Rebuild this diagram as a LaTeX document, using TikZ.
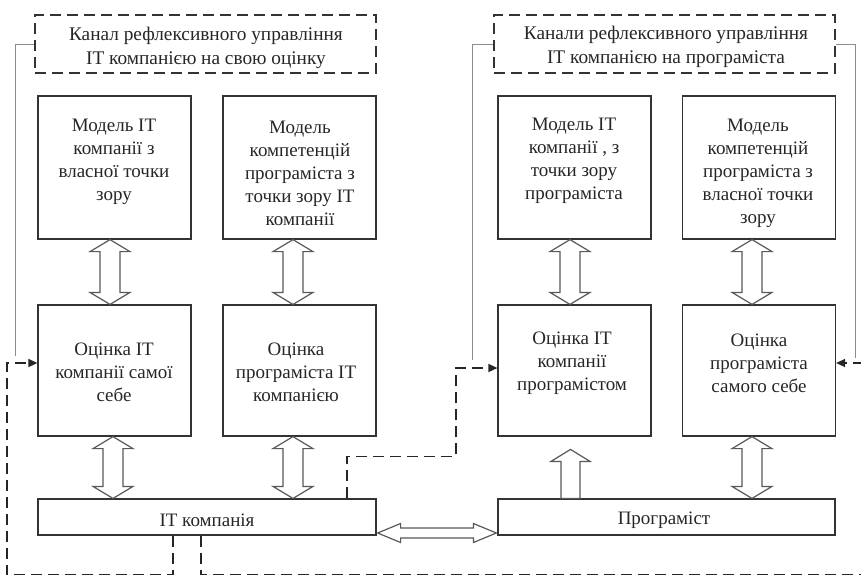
\documentclass[tikz,border=0pt]{standalone}
\usepackage{fontspec}
\setmainfont{Liberation Serif}
\usetikzlibrary{arrows.meta,calc}
\newcommand\vdarrow[3]{% #1 upper anchor, #2 lower anchor, #3 x (px)
  \draw[harrow] let \p1=(#1), \p2=(#2) in
    (#3pt,\y1) -- (#3pt+20pt,\y1-12pt) -- (#3pt+10pt,\y1-12pt) -- (#3pt+10pt,\y2+12pt)
    -- (#3pt+20pt,\y2+12pt) -- (#3pt,\y2) -- (#3pt-20pt,\y2+12pt) -- (#3pt-10pt,\y2+12pt)
    -- (#3pt-10pt,\y1-12pt) -- (#3pt-20pt,\y1-12pt) -- cycle;}
\begin{document}
\begin{tikzpicture}[x=1pt,y=-1pt,
  box/.style={draw=black!80,line width=1.2pt,minimum width=153pt,minimum height=143pt,inner sep=0pt},
  lowbox/.style={box,minimum height=131pt},
  wide/.style={draw=black!80,line width=1.2pt,minimum width=338pt,minimum height=36pt,inner sep=0pt},
  chan/.style={draw=black!80,line width=1.4pt,dash pattern=on 11pt off 6pt,minimum width=341pt,minimum height=58pt,inner sep=0pt},
  txt/.style={align=center,inner sep=0pt,text=black!85,font=\fontsize{19}{23}\selectfont},
  ctxt/.style={txt,font=\fontsize{19.3}{24}\selectfont},
  harrow/.style={draw=black!65,line width=1.2pt,fill=white,line join=miter},
  thin/.style={draw=black!45,line width=0.8pt},
  dline/.style={draw=black!85,line width=1.4pt,dash pattern=on 11pt off 6pt},
  tip/.style={-{Triangle[length=9pt,width=8pt]}}
]
\useasboundingbox (0,0) rectangle (861,576);

% channel boxes
\node[chan] (c1) at (205.5,44) {};
\node[chan] (c2) at (664.5,44) {};
\node[ctxt] (c1t) at (206,47.5) {Канал рефлексивного управління\\IT компанією на свою оцінку};
\node[ctxt] (c2t) at (666,47) {Канали рефлексивного управління\\IT компанією на програміста};

% model boxes
\node[box] (b1) at (114.5,167.5) {};
\node[box] (b2) at (299.5,167.5) {};
\node[box] (b5) at (574.5,167.5) {};
\node[box] (b6) at (759,167.5) {};
\node[txt] (b1t) at (114,162) {Модель IT\\компанії з\\власної точки\\зору};
\node[txt] (b2t) at (300,173) {Модель\\компетенцій\\програміста з\\точки зору IT\\компанії};
\node[txt] (b5t) at (574,161) {Модель IT\\компанії , з\\точки зору\\програміста};
\node[txt] (b6t) at (758,173) {Модель\\компетенцій\\програміста з\\власної точки\\зору};

% estimate boxes
\node[lowbox] (b3) at (114.5,370.5) {};
\node[lowbox] (b4) at (299.5,370.5) {};
\node[lowbox] (b7) at (574.5,370.5) {};
\node[lowbox] (b8) at (759,370.5) {};
\node[txt] (b3t) at (114,372) {Оцінка IT\\компанії самої\\себе};
\node[txt] (b4t) at (296,372) {Оцінка\\програміста IT\\компанією};
\node[txt] (b7t) at (572,363) {Оцінка IT\\компанії\\програмістом};
\node[txt] (b8t) at (759,363) {Оцінка\\програміста\\самого себе};

% actors
\node[wide] (it) at (207,517) {};
\node[wide,minimum width=337pt] (pr) at (666.5,517) {};
\node[txt] (itt) at (207,520) {IT компанія};
\node[txt] (prt) at (664,520) {Програміст};

% hollow double arrows
\vdarrow{b1.south}{b3.north}{110}
\vdarrow{b2.south}{b4.north}{293}
\vdarrow{b5.south}{b7.north}{570}
\vdarrow{b6.south}{b8.north}{752}
\vdarrow{b3.south}{it.north}{113}
\vdarrow{b4.south}{it.north}{293}
\vdarrow{b8.south}{pr.north}{752}

% single up arrow from programmer
\draw[harrow] let \p1=(pr.north) in
  (561pt,\y1) -- (561pt,\y1+37pt) -- (551pt,\y1+37pt) -- (570.5pt,\y1+49pt)
  -- (590pt,\y1+37pt) -- (580pt,\y1+37pt) -- (580pt,\y1) -- cycle;

% horizontal double arrow
\draw[harrow] let \p1=([yshift=-16pt]it.east), \p2=([yshift=-16pt]pr.west) in
  (\x1+1pt,\y1) -- (\x1+24pt,\y1+9.5pt) -- (\x1+24pt,\y1+5pt) -- (\x2-24pt,\y1+5pt)
  -- (\x2-24pt,\y1+9.5pt) -- (\x2-1pt,\y1) -- (\x2-24pt,\y1-9.5pt) -- (\x2-24pt,\y1-5pt)
  -- (\x1+24pt,\y1-5pt) -- (\x1+24pt,\y1-9.5pt) -- cycle;

% thin solid feedback lines
\coordinate (s1) at (15,356);
\coordinate (s2) at (472,360);
\coordinate (s3) at (855,358);
\draw[thin] (c1.west) -| (s1);
\draw[thin] (c2.west) -| (s2);
\draw[thin] (c2.east) -| (s3);

% dashed loops
\draw[dline,tip] ([xshift=-34pt]it.south) -- ++(0,39) -| (7,363) -- ([yshift=7.5pt]b3.west);
\draw[dline,tip] ([xshift=-6pt]it.south) -- ++(0,39) -| (866,363) -- ([yshift=7.5pt]b8.east);
\draw[dline,tip] ([xshift=140pt]it.north) -- ++(0,-42) -| (456,368) -- ([yshift=2.5pt]b7.west);
\end{tikzpicture}
\end{document}
